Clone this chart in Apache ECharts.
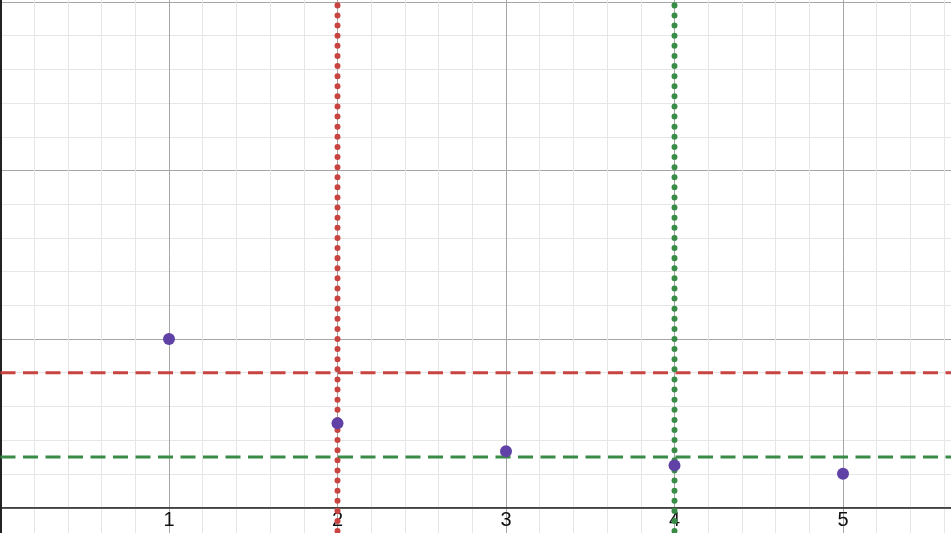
<!DOCTYPE html>
<html>
<head>
<meta charset="utf-8">
<script src="https://cdn.jsdelivr.net/npm/echarts@6/dist/echarts.min.js"></script>
<style>
html,body{margin:0;padding:0;background:#fff;overflow:hidden;width:951px;height:533px}
#wrap{position:relative;width:951px;height:533px;overflow:hidden}
#c{position:absolute;left:0;top:-170px;width:1020px;height:850px}
</style>
</head>
<body>
<div id="wrap"><div id="c"></div></div>
<script>
// data
const pointX = [1, 2, 3, 4, 5];
const pointY = [1, 0.5, 0.3333, 0.25, 0.2];
const hLineValues = [0.8, 0.3];
const hLineColors = ['#c74440', '#388c46'];
const vLineValues = [2, 4];
const vLineColors = ['#c74440', '#388c46'];
const xTickLabels = ['', '1', '2', '3', '4', '5', ''];

const X_MIN = 0, X_MAX = 6, Y_MIN = -1, Y_MAX = 4;
const UNIT = 168.5;

const chart = echarts.init(document.getElementById('c'), null, {renderer: 'canvas'});

const series = [];
hLineValues.forEach((v, i) => {
  series.push({
    type: 'line', silent: true, symbol: 'none', z: 3,
    data: [[X_MIN, v], [X_MAX, v]],
    lineStyle: {color: hLineColors[i], width: 3, type: [15, 7.5]}
  });
});
vLineValues.forEach((v, i) => {
  series.push({
    type: 'line', silent: true, symbol: 'none', z: 4,
    data: [[v, Y_MAX], [v, Y_MIN]],
    lineStyle: {color: vLineColors[i], width: 6, type: [0.01, 10.1], cap: 'round'}
  });
});
series.push({
  type: 'scatter', z: 5, symbol: 'circle', symbolSize: 12,
  data: pointX.map((x, i) => [x, pointY[i]]),
  itemStyle: {color: '#6042a6', opacity: 1}
});

chart.setOption({
  animation: false,
  backgroundColor: '#ffffff',
  grid: {left: 0.5, right: 8.5, top: 3.5, bottom: 4, containLabel: false, outerBoundsMode: 'none'},
  xAxis: {
    type: 'value', min: X_MIN, max: X_MAX, interval: 1,
    offset: -UNIT * (0 - Y_MIN),
    axisLine: {show: true, onZero: false, lineStyle: {color: '#222222', width: 1.5}},
    axisTick: {show: false},
    axisLabel: {
      show: true, margin: 3, fontSize: 20, color: '#111111', fontFamily: 'Liberation Sans, Arial, sans-serif',
      formatter: (v) => xTickLabels[Math.round(v - X_MIN)] || ''
    },
    splitLine: {show: true, lineStyle: {color: '#a6a6a6', width: 1}},
    minorTick: {show: false, splitNumber: 5},
    minorSplitLine: {show: true, lineStyle: {color: '#e6e6e6', width: 1}}
  },
  yAxis: {
    type: 'value', min: Y_MIN, max: Y_MAX, interval: 1,
    axisLine: {show: true, onZero: true, lineStyle: {color: '#222222', width: 2}},
    axisTick: {show: false},
    axisLabel: {show: false},
    splitLine: {show: true, lineStyle: {color: '#a6a6a6', width: 1}},
    minorTick: {show: false, splitNumber: 5},
    minorSplitLine: {show: true, lineStyle: {color: '#e6e6e6', width: 1}}
  },
  series: series
});
</script>
</body>
</html>
